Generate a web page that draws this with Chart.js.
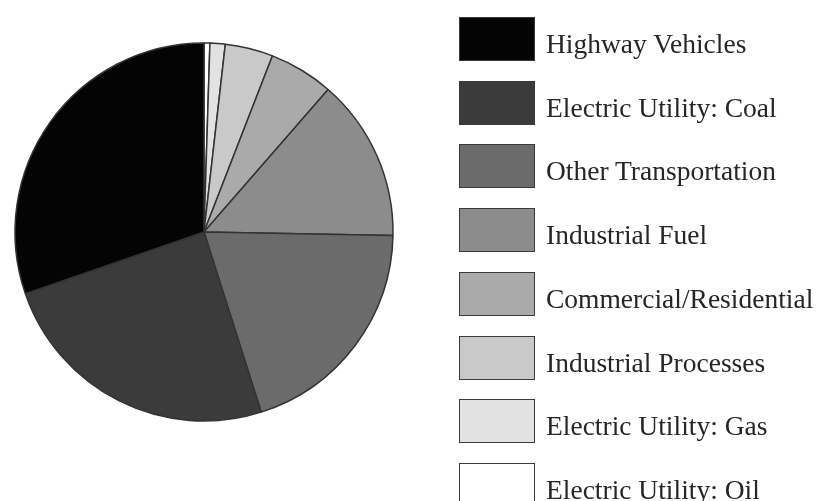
<!DOCTYPE html>
<html>
<head>
<meta charset="utf-8">
<script src="https://cdn.jsdelivr.net/npm/chart.js@4"></script>
<style>
    html, body { margin: 0; padding: 0; background: #fff; }
    #wrap { position: relative; width: 823px; height: 501px; }
    #pie { position: absolute; left: 0; top: 0; }
    #legend { position: absolute; left: 0; top: 0; }
    .item { position: absolute; left: 459px; }
    .box { position: absolute; left: 0; top: 0; width: 74px; height: 42px; border: 1.5px solid #3a3a3a; }
    .label { position: absolute; left: 87px; top: 13px; white-space: nowrap;
        font-family: "Liberation Serif", "DejaVu Serif", serif; font-size: 27.5px; line-height: 27px; color: #262626; }
</style>
</head>
<body>
<div id="wrap">
    <canvas id="pie" width="823" height="501"></canvas>
    <div id="legend"></div>
</div>
<script>
// legend order (top to bottom)
const categories = ['Highway Vehicles', 'Electric Utility: Coal', 'Other Transportation', 'Industrial Fuel',
    'Commercial/Residential', 'Industrial Processes', 'Electric Utility: Gas', 'Electric Utility: Oil'];
// share of total, percent
const shares = [30.3, 24.6, 19.8, 13.9, 5.5, 4.1, 1.3, 0.5];
const fills = ['#040404', '#3b3b3b', '#6b6b6b', '#8c8c8c', '#aaaaaa', '#c9c9c9', '#e2e2e2', '#ffffff'];

document.addEventListener("DOMContentLoaded", function () {
    // slices run counter-clockwise from 12 o'clock in the original, so feed them reversed
    const labelsRev = categories.slice().reverse();
    const dataRev = shares.slice().reverse();
    const fillsRev = fills.slice().reverse();

    const ctx = document.getElementById('pie').getContext('2d');
    new Chart(ctx, {
        type: 'pie',
        data: {
            labels: labelsRev,
            datasets: [{
                data: dataRev,
                backgroundColor: fillsRev,
                borderColor: '#333333',
                borderWidth: 1.5
            }]
        },
        options: {
            responsive: false,
            animation: false,
            radius: 189,
            layout: {
                padding: { left: 14, right: 429, top: 42, bottom: 79 }
            },
            plugins: {
                legend: { display: false },
                tooltip: { enabled: false }
            }
        }
    });

    let legend = document.getElementById('legend');
    categories.forEach(function (name, i) {
        let item = document.createElement('div');
        item.className = 'item';
        item.style.top = (17 + i * 63.7) + 'px';
        let box = document.createElement('div');
        box.className = 'box';
        box.style.background = fills[i];
        let label = document.createElement('span');
        label.className = 'label';
        label.textContent = name;
        item.appendChild(box);
        item.appendChild(label);
        legend.appendChild(item);
    });
});
</script>
</body>
</html>
